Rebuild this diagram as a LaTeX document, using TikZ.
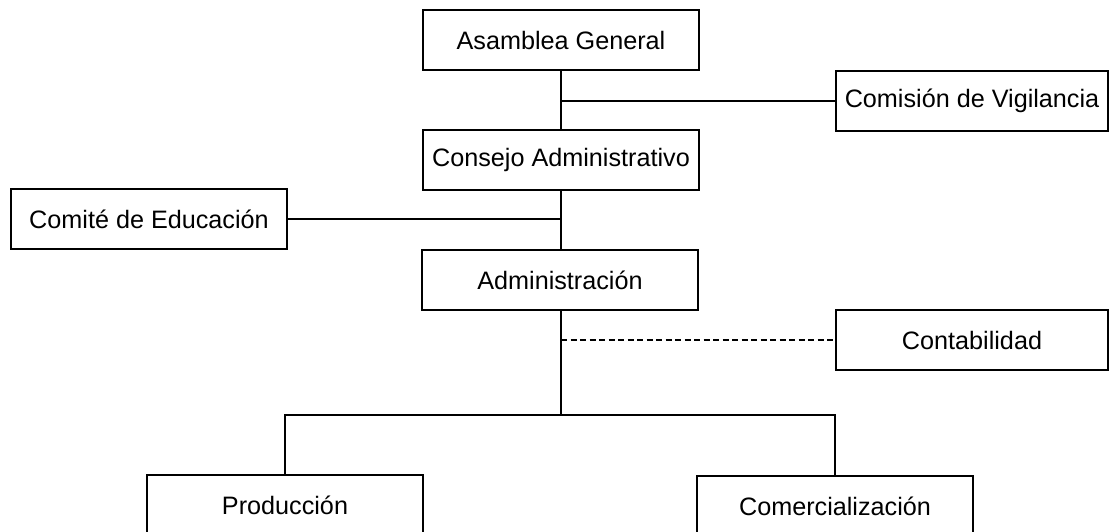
\documentclass[tikz,border=0pt]{standalone}
\usepackage{fontspec}
\setmainfont{Liberation Sans}
\begin{document}
\begin{tikzpicture}[x=1pt,y=-1pt,
  box/.style={draw, line width=2.2pt, minimum width=276pt, minimum height=60pt, inner sep=0pt, font=\fontsize{25.2}{29}\selectfont, fill=white},
  conn/.style={line width=2.2pt},
  dconn/.style={line width=2pt, dash pattern=on 6pt off 3.5pt}]
\clip (0,0) rectangle (1110,531);
\fill[white] (0,0) rectangle (1110,531);
\node[box] (asam) at (561,40) {Asamblea General};
\node[box, minimum width=272pt] (vig) at (972,101) {Comisión de Vigilancia};
\node[box] (cons) at (561,160) {Consejo Administrativo};
\node[box] (edu) at (149,219) {Comité de Educación};
\node[box] (adm) at (560,280) {Administración};
\node[box, minimum width=272pt] (cont) at (972,340) {Contabilidad};
\node[box] (prod) at (285,505) {Producción};
\node[box] (com) at (835,506) {Comercialización};
\coordinate (b) at (561,415);
\draw[conn] (asam.south) -- (cons.north);
\draw[conn] (asam.south |- vig.west) -- (vig.west);
\draw[conn] (cons.south) -- (cons.south |- adm.north);
\draw[conn] (edu.east) -- (cons.south |- edu.east);
\draw[conn] (cons.south |- adm.south) -- (b);
\draw[dconn] (b |- cont.west) -- (cont.west);
\draw[conn] (prod.north) -- (prod.north |- b) -- (com.north |- b) -- (com.north);
\end{tikzpicture}
\end{document}
